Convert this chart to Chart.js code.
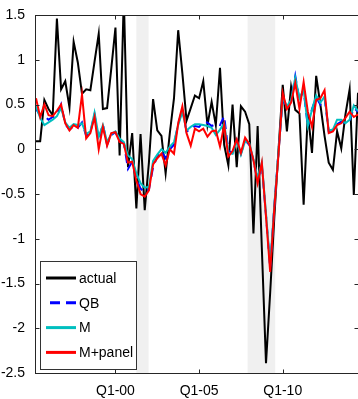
<!DOCTYPE html>
<html>
<head>
<meta charset="utf-8">
<script src="https://cdn.jsdelivr.net/npm/chart.js@4.4.1/dist/chart.umd.min.js"></script>
<style>
  html, body { margin: 0; padding: 0; background: #fff; overflow: hidden; }
  #wrap { width: 360px; height: 399px; }
</style>
</head>
<body>
<div id="wrap"><canvas id="chart" width="360" height="399"></canvas></div>
<script>
// quarterly observations, first one is 1995Q2
const startYear = 1995.25

const actual = [
  0.09, 0.09, 0.55, 0.45, 0.38, 1.46, 0.67, 0.76, 0.47, 1.20,
  0.97, 0.62, 0.67, 0.66, 0.98, 1.29, 0.45, 0.46, 0.90, 1.36,
  -0.07, 1.70, -0.20, 0.18, -0.66, 0.17, -0.68, -0.15, 0.56, 0.21,
  0.15, -0.27, 0.18, 0.57, 1.33, 0.85, 0.32, 0.46, 0.60, 0.57,
  0.76, 0.27, 0.53, 0.27, 0.91, 0.05, -0.18, 0.50, -0.20, 0.48,
  0.42, 0.28, -0.94, 0.26, -1.10, -2.39, -1.60, -0.75, 0.00, 0.72,
  0.20, 0.70, 0.44, 0.40, -0.62, 0.40, -0.04, 0.82, 0.50, 0.15,
  -0.15, -0.23, 0.20, 0.01, 0.39, 0.67, -0.51, 0.63
]
const qb = [
  0.45, 0.38, 0.37, 0.33, 0.36, 0.38, 0.50, 0.28, 0.22, 0.26,
  0.24, 0.30, 0.15, 0.19, 0.39, 0.10, 0.28, 0.05, 0.16, 0.19,
  0.10, 0.07, -0.22, -0.14, -0.33, -0.44, -0.48, -0.45, -0.20, -0.08,
  -0.02, -0.10, 0.00, 0.05, 0.28, 0.45, 0.20, 0.22, 0.26, 0.25,
  0.30, 0.30, 0.26, 0.28, 0.27, 0.37, -0.02, -0.04, 0.10, -0.05,
  0.10, 0.05, -0.13, -0.35, -0.18, -0.74, -1.33, -0.63, -0.02, 0.56,
  0.46, 0.54, 0.82, 0.55, 0.66, 0.25, 0.45, 0.58, 0.50, 0.57,
  0.20, 0.22, 0.28, 0.31, 0.29, 0.32, 0.46, 0.42
]
const mModel = [
  0.48, 0.35, 0.27, 0.30, 0.33, 0.37, 0.46, 0.30, 0.24, 0.28,
  0.27, 0.29, 0.17, 0.20, 0.41, 0.14, 0.27, 0.08, 0.17, 0.20,
  0.12, 0.08, -0.07, -0.11, -0.27, -0.38, -0.43, -0.42, -0.13, -0.06,
  0.00, -0.04, 0.03, 0.08, 0.27, 0.42, 0.21, 0.25, 0.28, 0.28,
  0.27, 0.26, 0.24, 0.16, 0.22, 0.29, -0.04, -0.05, 0.09, -0.06,
  0.09, 0.07, -0.12, -0.32, -0.15, -0.72, -1.30, -0.62, -0.03, 0.58,
  0.48, 0.55, 0.80, 0.57, 0.67, 0.26, 0.44, 0.60, 0.52, 0.59,
  0.21, 0.22, 0.33, 0.33, 0.29, 0.33, 0.49, 0.43
]
const mPanel = [
  0.57, 0.36, 0.50, 0.38, 0.37, 0.43, 0.50, 0.29, 0.21, 0.27,
  0.24, 0.61, 0.12, 0.18, 0.36, 0.00, 0.25, 0.04, 0.18, 0.19,
  0.08, 0.06, -0.15, -0.14, -0.35, -0.50, -0.53, -0.46, -0.17, -0.10,
  -0.05, -0.18, 0.00, -0.05, 0.29, 0.48, 0.18, 0.04, 0.23, 0.20,
  0.23, 0.14, 0.20, 0.21, 0.03, 0.27, -0.08, -0.02, 0.11, -0.04,
  0.13, 0.06, -0.12, -0.38, -0.15, -0.75, -1.37, -0.65, -0.05, 0.63,
  0.45, 0.52, 0.74, 0.45, 0.75, 0.42, 0.25, 0.55, 0.57, 0.66,
  0.18, 0.20, 0.27, 0.29, 0.35, 0.42, 0.36, 0.39
]

// recession periods in decimal years
const recessions = [[2001.25, 2001.98], [2007.9, 2009.55]]

const xTicks = [2000, 2005, 2010]
const xTickLabels = ["Q1-00", "Q1-05", "Q1-10"]
const yTicks = [-2.5, -2, -1.5, -1, -0.5, 0, 0.5, 1, 1.5]

const FONT = "'Liberation Sans', Arial, sans-serif"
const AXIS_COLOR = "#262626"

const toPoints = values => values.map((v, i) => ({ x: startYear + i * 0.25, y: v }))

const series = [
  { label: "actual", data: actual, color: "#000000", dash: [], order: 3 },
  { label: "QB", data: qb, color: "#0000ff", dash: [9, 6], order: 2 },
  { label: "M", data: mModel, color: "#00bfbf", dash: [], order: 1 },
  { label: "M+panel", data: mPanel, color: "#ff0000", dash: [], order: 0 }
]

const shading = {
  id: "shading",
  beforeDatasetsDraw(chart) {
    const { ctx, chartArea, scales } = chart
    ctx.save()
    ctx.fillStyle = "#f0f0f0"
    recessions.forEach(([a, b]) => {
      const x0 = scales.x.getPixelForValue(a)
      const x1 = scales.x.getPixelForValue(b)
      ctx.fillRect(x0, chartArea.top, x1 - x0, chartArea.bottom - chartArea.top)
    })
    ctx.restore()
  }
}

// box with inward ticks, then the legend in the lower left corner
const frame = {
  id: "frame",
  afterDraw(chart) {
    const { ctx, chartArea, scales } = chart
    const l = Math.round(chartArea.left) - 0.5
    const r = Math.round(chartArea.right) + 0.5
    const t = Math.round(chartArea.top) + 0.5
    const b = Math.round(chartArea.bottom) + 0.5
    ctx.save()
    ctx.strokeStyle = AXIS_COLOR
    ctx.lineWidth = 1
    ctx.strokeRect(l, t, r - l, b - t)
    ctx.beginPath()
    xTicks.forEach(v => {
      const x = Math.round(scales.x.getPixelForValue(v)) + 0.5
      ctx.moveTo(x, t); ctx.lineTo(x, t + 4)
      ctx.moveTo(x, b); ctx.lineTo(x, b - 4)
    })
    yTicks.forEach(v => {
      const y = Math.round(scales.y.getPixelForValue(v)) + 0.5
      ctx.moveTo(l, y); ctx.lineTo(l + 4, y)
      ctx.moveTo(r, y); ctx.lineTo(r - 4, y)
    })
    ctx.stroke()

    // legend
    const lx = 40.5, ly = 261.5, lw = 96, lh = 108
    ctx.fillStyle = "#ffffff"
    ctx.fillRect(lx, ly, lw, lh)
    ctx.strokeStyle = "#333333"
    ctx.strokeRect(lx, ly, lw, lh)
    ctx.font = "14px " + FONT
    ctx.textBaseline = "middle"
    ctx.textAlign = "left"
    series.forEach((s, i) => {
      const y = 278 + i * 24.8
      ctx.strokeStyle = s.color
      ctx.lineWidth = 3
      ctx.setLineDash(s.dash.length ? [10, 6] : [])
      ctx.lineDashOffset = s.dash.length ? -4 : 0
      ctx.beginPath()
      ctx.moveTo(46, y)
      ctx.lineTo(76, y)
      ctx.stroke()
      ctx.setLineDash([])
      ctx.fillStyle = "#000000"
      ctx.fillText(s.label, 79, y + 1)
    })
    ctx.restore()
  }
}

new Chart(document.getElementById("chart"), {
  type: "line",
  data: {
    datasets: series.map(s => ({
      label: s.label,
      data: toPoints(s.data),
      borderColor: s.color,
      borderWidth: 2,
      borderDash: s.dash,
      pointRadius: 0,
      tension: 0,
      fill: false,
      order: s.order,
      clip: 0
    }))
  },
  options: {
    responsive: false,
    animation: false,
    devicePixelRatio: 1,
    layout: {
      padding: { top: 15, right: 2, left: 0, bottom: 0 }
    },
    plugins: {
      legend: { display: false },
      tooltip: { enabled: false }
    },
    scales: {
      x: {
        type: "linear",
        min: startYear,
        max: startYear + (actual.length - 1) * 0.25,
        grid: { display: false },
        border: { display: false },
        afterBuildTicks: scale => { scale.ticks = xTicks.map(v => ({ value: v })) },
        afterFit: scale => { scale.height = 26 },
        ticks: {
          autoSkip: false,
          maxRotation: 0,
          padding: 2,
          color: "#000000",
          font: { size: 14, family: FONT },
          callback: value => xTickLabels[xTicks.indexOf(value)]
        }
      },
      y: {
        min: -2.5,
        max: 1.5,
        grid: { display: false },
        border: { display: false },
        afterBuildTicks: scale => { scale.ticks = yTicks.map(v => ({ value: v })) },
        afterFit: scale => { scale.width = 36 },
        ticks: {
          padding: 3,
          color: "#000000",
          font: { size: 14, family: FONT },
          callback: value => String(value)
        }
      }
    }
  },
  plugins: [shading, frame]
})
</script>
</body>
</html>
